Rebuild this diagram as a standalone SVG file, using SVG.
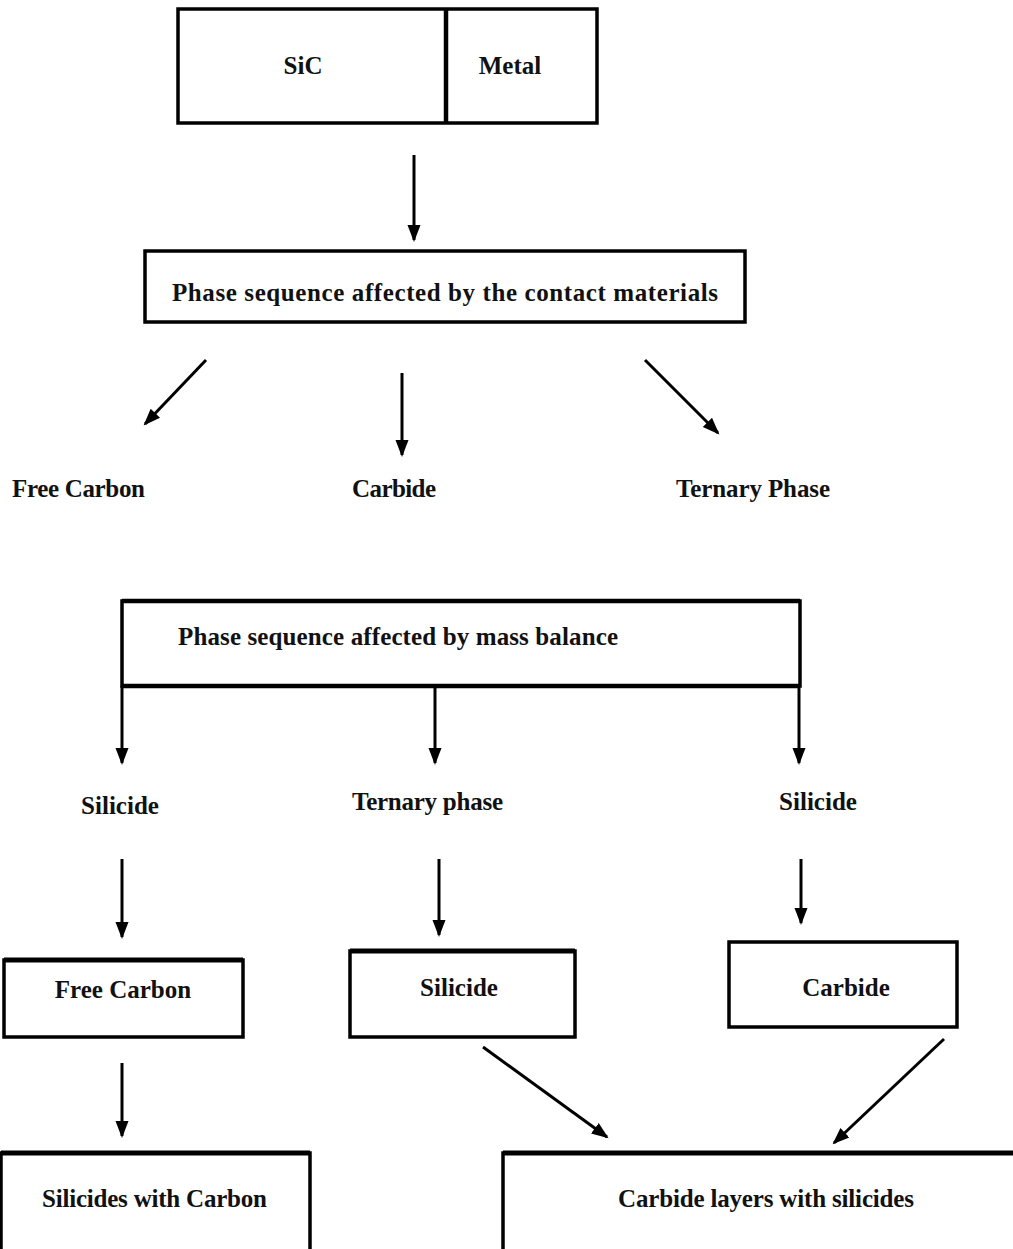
<svg xmlns="http://www.w3.org/2000/svg" width="1013" height="1249" viewBox="0 0 1013 1249">
<defs>
<style>
.box{fill:#fff;stroke:#000;stroke-width:3.5}
.t{font-family:"Liberation Serif","Times New Roman",serif;font-weight:bold;font-size:25px;fill:#111}
.m{text-anchor:middle}
.c{stroke:#000;stroke-width:3;fill:none}
</style>
<marker id="ah" markerUnits="userSpaceOnUse" markerWidth="18" markerHeight="16" viewBox="0 0 18 16" refX="15" refY="8" orient="auto">
<path d="M0,1.5 L17,8 L0,14.5 Z" fill="#000"/>
</marker>
</defs>
<rect width="1013" height="1249" fill="#fff"/>

<g id="node-sic-metal">
<rect class="box" x="178" y="9" width="419" height="114" stroke-width="4"/>
<line x1="446" y1="9" x2="446" y2="123" stroke="#000" stroke-width="4.5"/>
<text class="t m" x="303" y="74">SiC</text>
<text class="t m" x="510" y="74">Metal</text>
</g>

<g id="node-phase-contact">
<rect class="box" x="145" y="251" width="600" height="71" stroke-width="4"/>
<text class="t" x="172" y="301" textLength="546" lengthAdjust="spacing">Phase sequence affected by the contact materials</text>
</g>

<g id="node-free-carbon-1"><text class="t" x="12" y="497" textLength="133">Free Carbon</text></g>
<g id="node-carbide-1"><text class="t" x="352" y="497" textLength="84">Carbide</text></g>
<g id="node-ternary-1"><text class="t" x="676" y="497" textLength="154">Ternary Phase</text></g>

<g id="node-phase-mass">
<rect class="box" x="122" y="601" width="678" height="85"/>
<line x1="122" y1="601" x2="800" y2="601" stroke="#000" stroke-width="4.5"/>
<line x1="122" y1="686" x2="800" y2="686" stroke="#000" stroke-width="4.5"/>
<text class="t" x="178" y="645" textLength="440" lengthAdjust="spacing">Phase sequence affected by mass balance</text>
</g>

<g id="node-silicide-left"><text class="t m" x="120" y="814">Silicide</text></g>
<g id="node-ternary-2"><text class="t" x="352" y="810" textLength="151">Ternary phase</text></g>
<g id="node-silicide-right"><text class="t m" x="818" y="810">Silicide</text></g>

<g id="node-free-carbon-box">
<rect class="box" x="4" y="960" width="239" height="77"/>
<line x1="4" y1="960" x2="243" y2="960" stroke="#000" stroke-width="5"/>
<text class="t m" x="123" y="998">Free Carbon</text>
</g>
<g id="node-silicide-box">
<rect class="box" x="350" y="951" width="225" height="86"/>
<line x1="350" y1="951" x2="575" y2="951" stroke="#000" stroke-width="5"/>
<text class="t m" x="459" y="996">Silicide</text>
</g>
<g id="node-carbide-box">
<rect class="box" x="729" y="942" width="228" height="85" stroke-width="4"/>
<text class="t m" x="846" y="996">Carbide</text>
</g>
<g id="node-silicides-carbon">
<rect class="box" x="1" y="1153" width="309" height="100"/>
<line x1="1" y1="1153" x2="310" y2="1153" stroke="#000" stroke-width="5"/>
<text class="t" x="42" y="1207" textLength="225" lengthAdjust="spacing">Silicides with Carbon</text>
</g>
<g id="node-carbide-layers">
<rect class="box" x="503" y="1153" width="515" height="100"/>
<line x1="503" y1="1153" x2="1013" y2="1153" stroke="#000" stroke-width="5"/>
<text class="t" x="618" y="1207" textLength="296" lengthAdjust="spacing">Carbide layers with silicides</text>
</g>

<g id="connectors">
<line class="c" marker-end="url(#ah)" x1="414" y1="155" x2="414" y2="240"/>
<line class="c" marker-end="url(#ah)" x1="206" y1="360" x2="145" y2="424"/>
<line class="c" marker-end="url(#ah)" x1="402" y1="373" x2="402" y2="455"/>
<line class="c" marker-end="url(#ah)" x1="645" y1="360" x2="718" y2="433"/>
<line class="c" marker-end="url(#ah)" x1="122" y1="686" x2="122" y2="763"/>
<line class="c" marker-end="url(#ah)" x1="435" y1="686" x2="435" y2="763"/>
<line class="c" marker-end="url(#ah)" x1="799" y1="686" x2="799" y2="763"/>
<line class="c" marker-end="url(#ah)" x1="122" y1="859" x2="122" y2="937"/>
<line class="c" marker-end="url(#ah)" x1="439" y1="859" x2="439" y2="935"/>
<line class="c" marker-end="url(#ah)" x1="801" y1="859" x2="801" y2="923"/>
<line class="c" marker-end="url(#ah)" x1="122" y1="1063" x2="122" y2="1136"/>
<line class="c" marker-end="url(#ah)" x1="483" y1="1047" x2="607" y2="1137"/>
<line class="c" marker-end="url(#ah)" x1="944" y1="1039" x2="834" y2="1143"/>
</g>
</svg>
